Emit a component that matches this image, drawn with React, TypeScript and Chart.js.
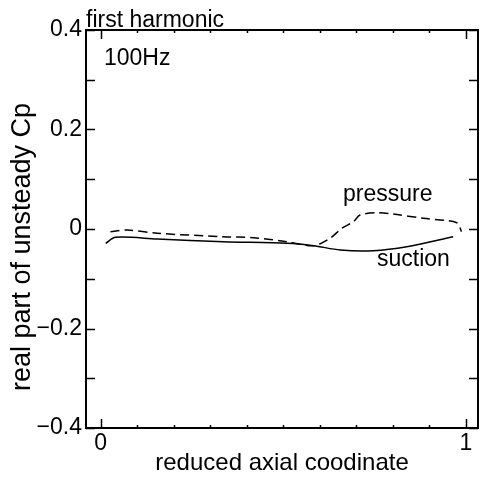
import React, { useEffect, useRef } from "react";
import { Chart, registerables } from "chart.js";

Chart.register(...registerables);

// Reduced axial coordinate / real part of unsteady Cp, first harmonic at 100 Hz
const pressureX = [0.027, 0.073, 0.155, 0.336, 0.418, 0.51, 0.583, 0.628, 0.66, 0.692, 0.71, 0.756, 0.801, 0.883, 0.975, 0.988];
const pressureY = [-0.0054, -0.002, -0.0086, -0.0155, -0.0175, -0.0255, -0.0336, -0.0187, 0.0014, 0.0147, 0.028, 0.0328, 0.03, 0.0215, 0.0127, -0.0054];
const suctionX = [0.014, 0.041, 0.155, 0.336, 0.51, 0.583, 0.656, 0.746, 0.838, 0.965];
const suctionY = [-0.0287, -0.0167, -0.0201, -0.0255, -0.0287, -0.0336, -0.0422, -0.0436, -0.0356, -0.0155];

const xTickValues = [0, 1];
const yTickValues = [-0.4, -0.2, 0, 0.2, 0.4];
const xMinorTicks = [0, 0.1, 0.2, 0.3, 0.4, 0.5, 0.6, 0.7, 0.8, 0.9, 1];
const yMinorTicks = [-0.4, -0.3, -0.2, -0.1, 0, 0.1, 0.2, 0.3, 0.4];

const FONT = "'Liberation Sans', Arial, Helvetica, sans-serif";

const framePlugin = {
  id: "frame",
  afterDraw(chart: any) {
    const { ctx, chartArea: a, scales } = chart;
    const xs = scales.x;
    const ys = scales.y;
    ctx.save();
    ctx.strokeStyle = "#000";
    ctx.lineWidth = 2;
    ctx.strokeRect(a.left, a.top, a.right - a.left, a.bottom - a.top);

    // inward ticks on all four sides
    ctx.lineWidth = 1.5;
    ctx.beginPath();
    for (const v of xMinorTicks) {
      const px = Math.round(xs.getPixelForValue(v)) + 0.5;
      const len = xTickValues.includes(v) ? 9 : 3;
      ctx.moveTo(px, a.bottom);
      ctx.lineTo(px, a.bottom - len);
      ctx.moveTo(px, a.top);
      ctx.lineTo(px, a.top + len);
    }
    for (const v of yMinorTicks) {
      const py = Math.round(ys.getPixelForValue(v)) + 0.5;
      ctx.moveTo(a.left, py);
      ctx.lineTo(a.left + 9, py);
      ctx.moveTo(a.right, py);
      ctx.lineTo(a.right - 9, py);
    }
    ctx.stroke();

    // titles and annotations
    ctx.fillStyle = "#000";
    ctx.textBaseline = "alphabetic";
    ctx.textAlign = "left";
    ctx.font = `23px ${FONT}`;
    ctx.fillText("first harmonic", 86, 27);
    ctx.fillText("100Hz", 104, 65);
    ctx.fillText("pressure", 343, 201);
    ctx.fillText("suction", 377, 266);

    ctx.textAlign = "center";
    ctx.textBaseline = "middle";
    ctx.font = `24px ${FONT}`;
    ctx.fillText("reduced axial coodinate", (a.left + a.right) / 2, 463);

    ctx.translate(23, 247);
    ctx.rotate(-Math.PI / 2);
    ctx.font = `27px ${FONT}`;
    ctx.fillText("real part of unsteady Cp", 0, 0);
    ctx.restore();
  },
};

export default function App() {
  const ref = useRef<HTMLCanvasElement>(null);

  useEffect(() => {
    if (!ref.current) return;
    const chart = new Chart(ref.current, {
      type: "line",
      data: {
        datasets: [
          {
            label: "pressure",
            data: pressureX.map((x, i) => ({ x, y: pressureY[i] })),
            borderColor: "#000",
            borderWidth: 1.5,
            borderDash: [9, 5],
            pointRadius: 0,
            tension: 0.3,
            fill: false,
          },
          {
            label: "suction",
            data: suctionX.map((x, i) => ({ x, y: suctionY[i] })),
            borderColor: "#000",
            borderWidth: 1.5,
            pointRadius: 0,
            tension: 0.3,
            fill: false,
          },
        ],
      },
      options: {
        responsive: false,
        animation: false,
        layout: { padding: { top: 30, right: 3, left: 0, bottom: 0 } },
        plugins: { legend: { display: false }, tooltip: { enabled: false } },
        scales: {
          x: {
            type: "linear",
            min: -0.04,
            max: 1.033,
            grid: { display: false, drawTicks: false },
            border: { display: false },
            afterBuildTicks: (s: any) => {
              s.ticks = xTickValues.map((value) => ({ value }));
            },
            afterFit: (s: any) => {
              s.height = 50;
            },
            ticks: {
              padding: 2,
              color: "#000",
              font: { family: FONT, size: 23 },
              callback: (v: any) => String(v),
            },
          },
          y: {
            type: "linear",
            min: -0.4,
            max: 0.4,
            grid: { display: false, drawTicks: false },
            border: { display: false },
            afterBuildTicks: (s: any) => {
              s.ticks = yTickValues.map((value) => ({ value }));
            },
            afterFit: (s: any) => {
              s.width = 86;
            },
            ticks: {
              padding: 4,
              color: "#000",
              font: { family: FONT, size: 23 },
              callback: (v: any) => {
                const n = Number(v);
                if (n === 0) return "0";
                const s = Math.abs(n).toFixed(1);
                return n < 0 ? "\u2212" + s : s;
              },
            },
          },
        },
      },
      plugins: [framePlugin],
    });
    return () => chart.destroy();
  }, []);

  return (
    <div style={{ position: "fixed", left: 0, top: 0, width: 481, height: 478, background: "#fff" }}>
      <canvas ref={ref} width={481} height={478} />
    </div>
  );
}
